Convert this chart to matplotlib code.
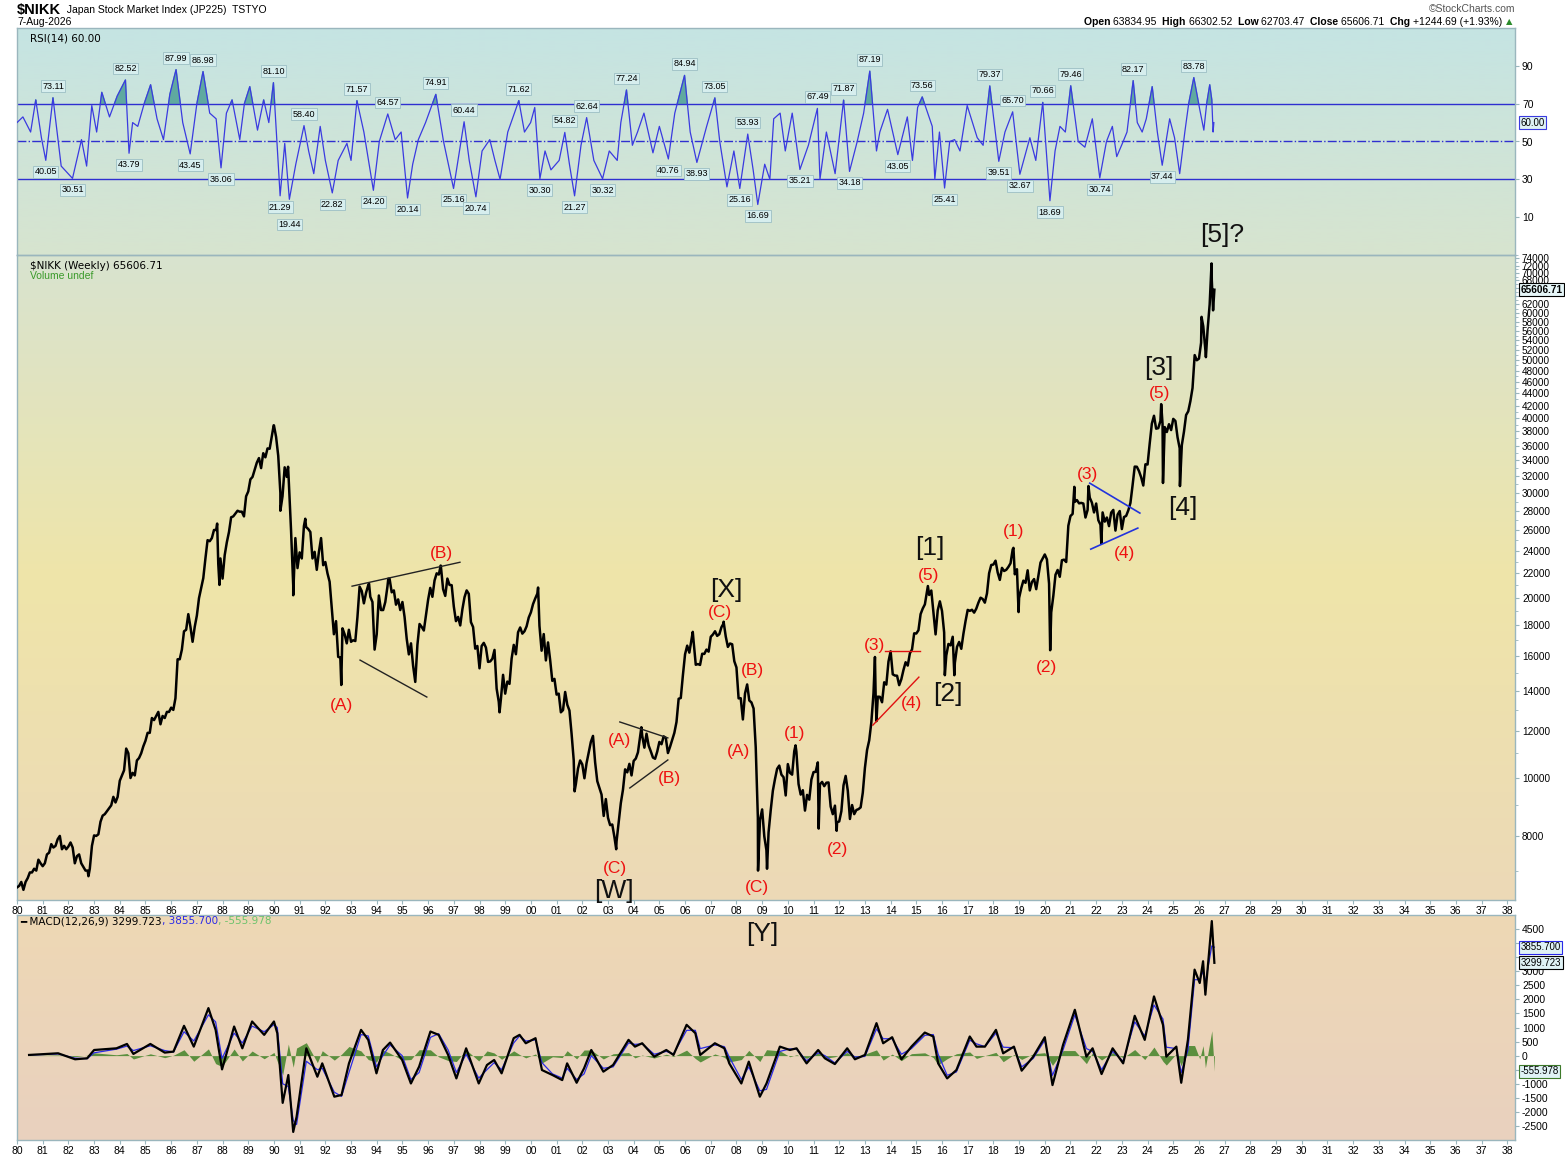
import numpy as np
import matplotlib
matplotlib.use("Agg")
import matplotlib.pyplot as plt
import matplotlib.ticker as mticker
from matplotlib.colors import to_rgb

plt.rcParams['font.family'] = ['Liberation Sans', 'DejaVu Sans']

W, H, DPI = 1565, 1157, 100

# ---------------- DATA ----------------
# Nikkei 225 approximate month-end closes, Jan 1980 .. Jul 2026
first_year = 1980
nikkei_monthly = [
    6600, 6700, 6500, 6700, 6800, 6950, 6950, 7050, 7000, 7300, 7200, 7120,
    7200, 7450, 7500, 7750, 7650, 7700, 7900, 8000, 7600, 7700, 7600, 7680,
    7800, 7650, 7200, 7400, 7450, 7200, 7100, 7000, 7000, 7050, 7700, 8016,
    8000, 8050, 8450, 8650, 8700, 8800, 8900, 9000, 9300, 9100, 9300, 9894,
    10100, 10300, 11200, 11000, 10000, 10200, 10100, 10700, 10800, 11000, 11300, 11542,
    11900, 11900, 12600, 12500, 12700, 12900, 12300, 12700, 12600, 12900, 12900, 13113,
    13000, 13600, 15800, 15800, 16400, 17600, 17700, 18800, 17900, 16900, 17900, 18700,
    20000, 20800, 21600, 23300, 25000, 24900, 25200, 26000, 26000, 22800, 23300, 21560,
    23600, 24800, 25800, 27300, 27400, 27700, 28000, 27900, 27900, 27400, 29600, 30160,
    31600, 31900, 32800, 33700, 34300, 33000, 34950, 34400, 35600, 35550, 37270, 38900,
    37200, 34600, 29980, 29600, 33100, 31900, 31000, 25900, 20980, 25200, 22450, 23850,
    23300, 26400, 26300, 26100, 25800, 23300, 23900, 22300, 23900, 25200, 22700, 22980,
    22000, 21300, 19300, 17400, 18300, 15950, 15900, 17800, 17400, 16800, 17700, 16900,
    17000, 16950, 18600, 20900, 20550, 19600, 20400, 21000, 20100, 19700, 16400, 17400,
    20200, 19100, 19100, 19700, 20900, 21550, 20450, 20600, 19500, 19900, 19100, 19700,
    18600, 17100, 16100, 16800, 15400, 14500, 16700, 18100, 17900, 17650, 18700, 19870,
    20800, 20100, 21400, 22000, 21900, 22530, 20700, 20170, 21560, 21040, 21020, 19360,
    18300, 18600, 18000, 19150, 20070, 20600, 20330, 18230, 17890, 16460, 16630, 15260,
    16630, 16830, 16530, 15640, 15670, 15830, 16380, 14110, 13410, 13560, 14880, 13840,
    14500, 14370, 15840, 16700, 16110, 17530, 17860, 17440, 17600, 17940, 18560, 18930,
    19540, 19960, 20340, 17970, 16330, 17410, 15730, 16860, 15750, 14540, 14650, 13790,
    13840, 12880, 12990, 13930, 13260, 12970, 11860, 10710, 9770, 10370, 10700, 10540,
    9990, 10590, 11020, 11490, 11760, 10620, 9880, 9620, 9380, 8640, 9220, 8580,
    8340, 8360, 7970, 7830, 8420, 9080, 9560, 10340, 10220, 10560, 10100, 10680,
    10780, 11040, 11720, 11760, 11240, 11860, 11330, 11080, 10820, 10770, 11070, 11490,
    11390, 11740, 11670, 11010, 11280, 11580, 11900, 12410, 13570, 13610, 14870, 16110,
    16650, 16210, 17060, 16910, 15470, 15510, 15460, 16140, 16130, 16400, 16270, 17230,
    17380, 17600, 17290, 17400, 17880, 18140, 17250, 16570, 16790, 16740, 15680, 15310,
    13590, 13600, 12530, 13850, 14340, 13480, 13380, 13070, 11260, 8580, 8510, 8860,
    7990, 7570, 8110, 8830, 9520, 9960, 10360, 10490, 10130, 10030, 9350, 10550,
    10200, 10130, 11090, 11060, 9770, 9380, 9540, 8820, 9370, 9200, 9940, 10230,
    10240, 10620, 9760, 9850, 9690, 9820, 9830, 8960, 8700, 8990, 8430, 8460,
    8800, 9720, 10080, 9520, 8540, 9010, 8700, 8840, 8870, 8930, 9450, 10400,
    11140, 11560, 12400, 13860, 13770, 13680, 13670, 13390, 14460, 14330, 15660, 16290,
    14910, 14840, 14830, 14300, 14630, 15160, 15620, 15420, 16170, 16410, 17460, 17450,
    17670, 18800, 19210, 19520, 20560, 20240, 20590, 18890, 17390, 19080, 19750, 19030,
    17520, 16030, 16760, 16670, 17230, 15580, 16570, 16890, 16450, 17430, 18310, 19110,
    19040, 19120, 18910, 19200, 19650, 20030, 19930, 19650, 20360, 22010, 22720, 22760,
    23100, 22070, 21450, 22470, 22200, 22300, 22550, 22870, 24120, 21920, 22350, 20010,
    20770, 21390, 21210, 22260, 20600, 21280, 21520, 20700, 21760, 22930, 23290, 23660,
    23210, 21140, 18920, 20190, 21880, 22290, 21710, 23140, 23190, 22980, 26430, 27440,
    27660, 28970, 29180, 28810, 28860, 28790, 27280, 28090, 29450, 28890, 27820, 28790,
    27000, 26530, 27820, 26850, 27280, 26390, 27800, 28090, 25940, 27590, 27970, 26090,
    27330, 27450, 28040, 28860, 30890, 33190, 33170, 32620, 31860, 30860, 33490, 33460,
    36290, 39170, 40370, 38410, 38490, 39580, 39100, 38650, 37920, 39080, 38210, 39890,
    39570, 37160, 35620, 36050, 37970, 40490, 41070, 42720, 44930, 51000, 50000, 50300,
    53500, 57000, 52000, 56000, 62000, 68000, 64000,
]
# intra-month extremes (highs / lows)
extreme_dates = [1980.0, 1982.78, 1987.79, 1987.88, 1989.99, 1990.25, 1990.55, 1990.75,
                 1991.22, 1992.62, 1993.7, 1994.45, 1995.5, 1996.49, 1998.78, 2000.28,
                 2001.7, 2003.32, 2004.3, 2006.3, 2007.5, 2008.84, 2009.19, 2010.3,
                 2011.2, 2011.9, 2013.39, 2013.45, 2015.45, 2016.11, 2016.48, 2018.78,
                 2018.98, 2020.21, 2021.15, 2021.7, 2022.2, 2024.53, 2024.6, 2025.26,
                 2026.1, 2026.27, 2026.49, 2026.55, 2026.6]
extreme_values = [6560, 6850, 26650, 21040, 38920, 28000, 33170, 20220,
                  27150, 14310, 21150, 21550, 14480, 22670, 12880, 20830,
                  9500, 7600, 12160, 17560, 18260, 7000, 7050, 11340,
                  8230, 8160, 15940, 12450, 20950, 14860, 14860, 24270,
                  18950, 16360, 30700, 30800, 24700, 42220, 31160, 30790,
                  59100, 50600, 72600, 60600, 65606.71]

# RSI(14) labelled extremes
rsi_label_dates = [1981.12, 1981.4, 1982.16, 1984.22, 1984.36, 1986.19, 1986.74, 1987.24,
                   1987.94, 1989.98, 1990.24, 1990.6, 1991.17, 1992.27, 1993.23, 1993.87,
                   1994.43, 1995.2, 1996.3, 1996.99, 1997.4, 1997.86, 1999.53, 2000.35,
                   2001.32, 2001.7, 2002.17, 2002.79, 2003.72, 2005.35, 2005.98, 2006.46,
                   2007.16, 2008.13, 2008.44, 2008.83, 2010.47, 2011.15, 2012.17, 2012.4,
                   2013.19, 2014.28, 2015.23, 2016.1, 2017.86, 2018.21, 2018.75, 2019.03,
                   2019.92, 2020.2, 2021.01, 2022.14, 2023.44, 2024.57, 2025.8]
rsi_label_values = [40.05, 73.11, 30.51, 82.52, 43.79, 87.99, 43.45, 86.98,
                    36.06, 81.10, 21.29, 19.44, 58.40, 22.82, 71.57, 24.20,
                    64.57, 20.14, 74.91, 25.16, 60.44, 20.74, 71.62, 30.30,
                    54.82, 21.27, 62.64, 30.32, 77.24, 40.76, 84.94, 38.93,
                    73.05, 25.16, 53.93, 16.69, 35.21, 67.49, 71.87, 34.18,
                    87.19, 43.05, 73.56, 25.41, 79.37, 39.51, 65.70, 32.67,
                    70.66, 18.69, 79.46, 30.74, 82.17, 37.44, 83.78]
# other RSI swings (unlabelled)
rsi_dates = [1980.0, 1980.23, 1980.53, 1980.73, 1980.95, 1981.72, 1982.51, 1982.71, 1982.91,
             1983.1, 1983.3, 1983.6, 1983.9, 1984.5, 1984.7, 1984.95, 1985.2, 1985.45,
             1985.7, 1985.95, 1986.45, 1987.0, 1987.5, 1987.75, 1988.15, 1988.37, 1988.67,
             1988.85, 1989.06, 1989.36, 1989.6, 1989.8, 1990.42, 1990.85, 1991.35, 1991.55,
             1991.8, 1992.0, 1992.5, 1992.84, 1993.0, 1993.5, 1994.1, 1994.72, 1994.95,
             1995.4, 1995.62, 1995.9, 1996.6, 1997.6, 1998.1, 1998.4, 1998.6, 1998.8,
             1999.1, 1999.75, 1999.99, 2000.15, 2000.55, 2000.78, 2001.1, 2001.5, 2001.95,
             2002.45, 2003.05, 2003.36, 2003.5, 2003.95, 2004.15, 2004.4, 2004.75, 2005.0,
             2005.6, 2006.2, 2006.84, 2007.35, 2007.63, 2007.9, 2008.65, 2009.1, 2009.3,
             2009.45, 2009.7, 2009.9, 2010.17, 2010.8, 2011.25, 2011.5, 2011.84, 2012.7,
             2012.95, 2013.45, 2013.58, 2013.88, 2014.65, 2014.85, 2015.05, 2015.62,
             2015.72, 2015.9, 2016.3, 2016.49, 2016.7, 2016.98, 2017.37, 2017.6, 2018.45,
             2019.42, 2019.65, 2020.4, 2020.59, 2020.8, 2021.3, 2021.56, 2021.85, 2022.4,
             2022.63, 2022.8, 2023.02, 2023.2, 2023.6, 2023.79, 2023.95, 2024.18, 2024.38,
             2024.86, 2025.05, 2025.25, 2025.45, 2025.6, 2026.03, 2026.19, 2026.3, 2026.42,
             2026.5, 2026.55, 2026.58]
rsi_values = [60, 63, 55, 72, 52, 37, 51, 37, 69,
              55, 76, 63, 74, 60, 58, 70, 80, 62,
              51, 75, 60, 70, 65, 62, 65, 72, 51,
              70, 79, 56, 72, 60, 49, 38, 45, 33,
              58, 40, 40, 49, 40, 55, 50, 51, 55,
              38, 51, 60, 50, 40, 45, 51, 40, 30,
              55, 55, 60, 68, 45, 35, 40, 38, 48,
              40, 45, 40, 60, 48, 55, 65, 44, 58,
              65, 55, 58, 50, 26, 45, 35, 38, 30,
              62, 65, 45, 65, 48, 30, 55, 33, 50,
              65, 45, 55, 67, 63, 40, 68, 58,
              30, 55, 50, 51, 45, 69, 52, 48, 55,
              52, 40, 45, 58, 55, 50, 47, 62, 50,
              58, 42, 49, 55, 60, 55, 62, 79, 55,
              62, 52, 33, 55, 70, 67, 56, 70, 80,
              72, 55, 60.00]

# MACD(12,26,9) line and signal line
macd_dates = [1980.47, 1981.6, 1982.26, 1982.73, 1983.0, 1983.87, 1984.28, 1984.53, 1985.19,
              1985.75, 1986.09, 1986.5, 1986.88, 1987.45, 1987.73, 1987.98, 1988.45, 1988.77,
              1989.15, 1989.62, 1990.0, 1990.13, 1990.34, 1990.56, 1990.75, 1990.88, 1991.26,
              1991.69, 1991.88, 1992.35, 1992.63, 1992.92, 1993.39, 1993.67, 1993.99, 1994.24,
              1994.52, 1994.99, 1995.33, 1995.65, 1996.09, 1996.41, 1996.78, 1997.1, 1997.48,
              1997.97, 1998.29, 1998.57, 1998.86, 1999.33, 1999.56, 1999.8, 2000.18, 2000.43,
              2000.84, 2001.22, 2001.41, 2001.78, 2002.07, 2002.35, 2002.82, 2003.2, 2003.8,
              2004.05, 2004.33, 2004.8, 2005.27, 2005.55, 2006.06, 2006.4, 2006.59, 2007.16,
              2007.53, 2007.72, 2008.19, 2008.48, 2008.91, 2009.17, 2009.69, 2010.08, 2010.34,
              2010.73, 2011.18, 2011.44, 2011.83, 2012.31, 2012.61, 2013.0, 2013.45, 2013.71,
              2014.06, 2014.42, 2014.81, 2015.33, 2015.66, 2015.85, 2016.2, 2016.56, 2017.08,
              2017.34, 2017.67, 2018.1, 2018.38, 2018.8, 2019.1, 2019.55, 2020.0, 2020.3,
              2020.71, 2021.17, 2021.62, 2021.86, 2022.21, 2022.64, 2023.05, 2023.5, 2023.89,
              2024.25, 2024.6, 2024.73, 2025.12, 2025.31, 2025.57, 2025.83, 2026.03, 2026.16,
              2026.25, 2026.5, 2026.6]
macd_values = [24, 83, -130, -95, 200, 260, 415, 60, 415,
               107, 143, 1060, 320, 1690, 916, -490, 1035, 260,
               1214, 738, 1214, 797, -1680, -690, -2713, -2180, 260,
               -750, -275, -1460, -1400, -275, 916, 560, -630, 200,
               464, -155, -990, -390, 857, 738, 24, -810, 260,
               -990, -333, -155, -630, 620, 738, 440, 620, -512,
               -690, -870, -275, -965, -450, 200, -570, -333, 560,
               320, 440, -36, 200, 24, 1095, 797, 24, 440,
               260, -275, -990, -214, -1460, -990, 320, 200, 260,
               -275, 200, -95, -300, 260, -130, 24, 1155, 440,
               655, -130, 320, 820, 680, -275, -810, -512, 680,
               320, 320, 916, 83, 320, -535, -36, 655, -1047,
               380, 1630, -36, 260, -655, 260, -275, 1416, 560,
               2106, 1095, -36, 320, -965, 560, 3058, 2582, 3356,
               2166, 4784, 3299.723]
signal_values = [20, 60, -90, -110, 100, 230, 340, 180, 350,
                 180, 130, 850, 520, 1450, 1200, -100, 800, 450,
                 1050, 850, 1100, 1000, -1000, -1100, -2300, -2450, -200,
                 -500, -450, -1300, -1450, -600, 750, 700, -400, 0,
                 380, 0, -850, -600, 650, 780, 200, -600, 50,
                 -800, -500, -250, -500, 450, 700, 520, 560, -250,
                 -650, -800, -450, -850, -650, 0, -450, -400, 450,
                 400, 420, 50, 150, 60, 900, 900, 250, 380,
                 320, -50, -850, -400, -1250, -1200, 150, 240, 230,
                 -180, 100, 0, -260, 150, -50, -30, 950, 600,
                 600, 50, 250, 720, 750, 50, -700, -580, 550,
                 420, 320, 800, 300, 280, -400, -100, 550, -700,
                 200, 1450, 250, 150, -500, 150, -200, 1200, 700,
                 1800, 1300, 300, 250, -600, 200, 2700, 2700, 3000,
                 2600, 3900, 3855.700]

# Elliott-wave annotations (text, date, price level)
wave_texts = ["(A)", "(B)", "[W]", "(C)", "(A)", "(B)", "[X]", "(C)", "(B)", "(A)", "(C)",
              "[Y]", "(1)", "(2)", "(3)", "(4)", "(5)", "[1]", "[2]", "(1)", "(2)", "(3)",
              "(4)", "[3]", "(5)", "[4]", "[5]?"]
wave_dates = [1992.61, 1996.5, 2003.23, 2003.27, 2003.46, 2005.41, 2007.59, 2007.35, 2008.64,
              2008.09, 2008.79, 2009.02, 2010.27, 2011.95, 2013.39, 2014.83, 2015.49, 2015.53,
              2016.23, 2018.79, 2020.08, 2021.67, 2023.11, 2024.44, 2024.47, 2025.37, 2026.89]
wave_prices = [13200, 23790, 6480, 7070, 11570, 9998, 20630, 18950, 15160,
               11055, 6548, 5480, 11850, 7580, 16630, 13350, 21850, 24250,
               13820, 25880, 15330, 32240, 23790, 48490, 44040, 28290, 80900]

# trend lines drawn on the chart
black_line_dates = [[1993.04, 1997.24], [1993.35, 1995.95], [2003.46, 2005.33], [2003.85, 2005.33]]
black_line_values = [[20940, 22960], [15750, 13660], [12410, 11670], [9623, 10720]]
red_line_dates = [[2013.77, 2015.14], [2013.31, 2015.1]]
red_line_values = [[16310, 16310], [12260, 14750]]
blue_line_dates = [[2021.75, 2023.7], [2021.79, 2023.62]]
blue_line_values = [[31140, 27750], [24150, 26190]]

year_ticks = list(range(1980, 2039))
price_ticks = list(range(8000, 74001, 2000))
price_ticks_hidden = [64000, 66000]        # covered by the last-close tag
rsi_ticks = [10, 30, 50, 70, 90]
macd_ticks = list(range(-2500, 4501, 500))
macd_ticks_hidden = [4000, 3500, -500]     # covered by the value tags

last_close = 65606.71
rsi_last = 60.00
macd_last, signal_last, hist_last = 3299.723, 3855.700, -555.978

# ---------------- FIGURE ----------------
fig = plt.figure(figsize=(W / DPI, H / DPI), dpi=DPI, facecolor='white')
SPINE = '#9ab6bd'


def px_rect(x0, y0, x1, y1):
    return [x0 / W, 1 - y1 / H, (x1 - x0) / W, (y1 - y0) / H]


def add_bg(rect, stops):
    bg = fig.add_axes(rect, zorder=0)
    bg.set_axis_off()
    pos = np.linspace(0, 1, 256)
    ps = [p for p, _ in stops]
    cols = np.array([to_rgb(c) for _, c in stops])
    arr = np.stack([np.interp(pos, ps, cols[:, k]) for k in range(3)], axis=-1)[:, None, :]
    bg.imshow(arr, aspect='auto', interpolation='bilinear')
    bg.set_position(rect)


def style_axes(ax):
    ax.patch.set_alpha(0)
    for s in ax.spines.values():
        s.set_color(SPINE)
        s.set_linewidth(1.0)
    ax.yaxis.tick_right()
    ax.tick_params(axis='y', labelsize=7.5, length=3, color=SPINE, pad=2)
    ax.tick_params(axis='x', labelsize=7.5, length=3, color=SPINE, pad=1.5)


r_rsi = px_rect(17, 28, 1515, 255)
r_price = px_rect(17, 255, 1515, 900)
r_macd = px_rect(17, 915, 1515, 1140)
add_bg(r_rsi, [(0, '#c5e4e3'), (1, '#d7e4cf')])
add_bg(r_price, [(0, '#d8e3cf'), (0.5, '#efe5a9'), (1, '#ecd9b7')])
add_bg(r_macd, [(0, '#eed8b4'), (1, '#e9d1bf')])

ax_r = fig.add_axes(r_rsi, zorder=2)
ax_p = fig.add_axes(r_price, zorder=2)
ax_m = fig.add_axes(r_macd, zorder=2)
for a in (ax_r, ax_p, ax_m):
    style_axes(a)
    a.set_xlim(1980, 2038.3)

# ---- RSI ----
rd = np.array(rsi_dates + rsi_label_dates)
rv = np.array(rsi_values + rsi_label_values)
o = np.argsort(rd)
rd, rv = rd[o], rv[o]
ax_r.set_ylim(-10, 110)
ax_r.fill_between(rd, rv, 70, where=rv > 70, interpolate=True, color='#5fa9a0', zorder=2)
ax_r.plot(rd, rv, color='#3a3ae0', lw=0.9, zorder=3)
ax_r.axhline(70, color='#2f2fd0', lw=1.0, zorder=2)
ax_r.axhline(30, color='#2f2fd0', lw=1.0, zorder=2)
ax_r.axhline(50, color='#2f2fd0', lw=1.0, ls='-.', zorder=2)
ax_r.set_yticks(rsi_ticks)
ax_r.set_xticks([])
prev_trough_date = -1e9
for d, v in zip(rsi_label_dates, rsi_label_values):
    up = v >= 50
    off = 5 if up else -5
    if not up:
        # two neighbouring trough labels: stack the later one below the first
        if d - prev_trough_date < 0.5:
            off = -15
        prev_trough_date = d
    ax_r.annotate(f"{v:.2f}", xy=(d, v), xytext=(0, off),
                  textcoords='offset points', ha='center', va='bottom' if up else 'top',
                  fontsize=6.5, zorder=5,
                  bbox=dict(boxstyle='square,pad=0.15', fc='#d6eeee', ec='#9cbfc4', lw=0.6))
ax_r.annotate(f"{rsi_last:.2f}", xy=(1, rsi_last), xycoords=ax_r.get_yaxis_transform(),
              xytext=(4, 0), textcoords='offset points', ha='left', va='center', fontsize=7,
              bbox=dict(boxstyle='square,pad=0.15', fc='#dff2f5', ec='#3a3ae0', lw=0.8))
ax_r.text(0.009, 0.955, "RSI(14) 60.00", transform=ax_r.transAxes, fontsize=7.5,
          family=['DejaVu Sans'], va='center')

# ---- PRICE ----
pd_ = [first_year + (i + 1) / 12 for i in range(len(nikkei_monthly))]
pdates = np.array(pd_ + extreme_dates)
pvals = np.array(nikkei_monthly + extreme_values, dtype=float)
o = np.argsort(pdates, kind='stable')
pdates, pvals = pdates[o], pvals[o]
ax_p.set_yscale('log')
ax_p.plot(pdates, pvals, color='black', lw=1.8, zorder=3)
ax_p.set_ylim(6250, 75000)
ax_p.yaxis.set_major_locator(mticker.FixedLocator(price_ticks))
ax_p.yaxis.set_major_formatter(mticker.FuncFormatter(
    lambda v, p: "" if int(round(v)) in price_ticks_hidden else f"{int(round(v))}"))
ax_p.yaxis.set_minor_locator(mticker.FixedLocator([v + 1000 for v in price_ticks] + [7000]))
ax_p.yaxis.set_minor_formatter(mticker.NullFormatter())
ax_p.tick_params(axis='y', which='minor', length=2, color=SPINE)
ax_p.tick_params(axis='y', labelsize=7.2)
ax_p.set_xticks(year_ticks)
ax_p.set_xticklabels([f"{y % 100:02d}" for y in year_ticks])
ax_p.set_xlim(1980, 2038.3)

for xs, ys in zip(black_line_dates, black_line_values):
    ax_p.plot(xs, ys, color='#222222', lw=1.0, zorder=4)
for xs, ys in zip(red_line_dates, red_line_values):
    ax_p.plot(xs, ys, color='#e01010', lw=1.0, zorder=4)
for xs, ys in zip(blue_line_dates, blue_line_values):
    ax_p.plot(xs, ys, color='#2233dd', lw=1.2, zorder=4)

for t, d, v in zip(wave_texts, wave_dates, wave_prices):
    big = t.startswith('[')
    ax_p.text(d, v, t, ha='center', va='center', clip_on=False, zorder=6,
              fontsize=19 if big else 12.5, color='#111111' if big else '#ee1111')

ax_p.annotate(f"{last_close:.2f}", xy=(1, last_close), xycoords=ax_p.get_yaxis_transform(),
              xytext=(4, 0), textcoords='offset points', ha='left', va='center', fontsize=7.2,
              fontweight='bold',
              bbox=dict(boxstyle='square,pad=0.15', fc='#e6f6f8', ec='black', lw=0.8))
ax_p.text(0.009, 0.990, "$NIKK (Weekly) 65606.71", transform=ax_p.transAxes, fontsize=7.5,
          family=['DejaVu Sans'], va='top')
ax_p.text(0.009, 0.975, "Volume undef", transform=ax_p.transAxes, fontsize=7.5,
          color='#3a9a2a', va='top')

# ---- MACD ----
md = np.array(macd_dates)
mv = np.array(macd_values)
sv = np.array(signal_values)
hist = mv - sv
ax_m.set_ylim(-3000, 5000)
ax_m.fill_between(md, hist, 0, color='#5b8f3e', lw=0, zorder=2)
ax_m.plot(md, sv, color='#2a2ae8', lw=0.9, zorder=3)
ax_m.plot(md, mv, color='black', lw=1.6, zorder=4)
ax_m.set_yticks(macd_ticks)
ax_m.yaxis.set_major_formatter(mticker.FuncFormatter(
    lambda v, p: "" if int(round(v)) in macd_ticks_hidden else f"{int(round(v))}"))
ax_m.set_xticks(year_ticks)
ax_m.set_xticklabels([f"{y % 100:02d}" for y in year_ticks])
ax_m.set_xlim(1980, 2038.3)
for val, ec in ((signal_last, '#2a2ae8'), (macd_last, 'black'), (hist_last, '#3d7a2a')):
    ax_m.annotate(f"{val:.3f}", xy=(1, val), xycoords=ax_m.get_yaxis_transform(),
                  xytext=(4, 0), textcoords='offset points', ha='left', va='center',
                  fontsize=7, zorder=6,
                  bbox=dict(boxstyle='square,pad=0.15', fc='#dff2f5', ec=ec, lw=0.8))

# ---- header / legend texts laid out in sequence ----
renderer = fig.canvas.get_renderer()


def seq_text(x_px, y_px, pieces, align='left'):
    x = x_px
    objs = []
    for txt, kw in pieces:
        t = fig.text(x / W, 1 - y_px / H, txt, va='center', ha='left', **kw)
        x += t.get_window_extent(renderer).width
        objs.append(t)
    if align == 'right':
        shift = (x - x_px) / W
        for t in objs:
            px, py = t.get_position()
            t.set_position((px - shift, py))


seq_text(17, 10, [("$NIKK", dict(fontsize=10.5, fontweight='bold')),
                  ("  Japan Stock Market Index (JP225)  TSTYO", dict(fontsize=7.5))])
fig.text(17 / W, 1 - 22 / H, "7-Aug-2026", fontsize=7.5, va='center')
fig.text(1515 / W, 1 - 9 / H, "\u00a9StockCharts.com", fontsize=7.5, color='#555555',
         ha='right', va='center')
B = dict(fontsize=7.5, fontweight='bold')
N = dict(fontsize=7.5)
seq_text(1512, 22, [("Open ", B), ("63834.95  ", N), ("High ", B), ("66302.52  ", N),
                    ("Low ", B), ("62703.47  ", N), ("Close ", B), ("65606.71  ", N),
                    ("Chg ", B), ("+1244.69 (+1.93%) ", N),
                    ("\u25b2", dict(fontsize=6, color='#2a8a2a', family=['DejaVu Sans']))],
         align='right')
M = dict(fontsize=7.5, family=['DejaVu Sans'])
seq_text(20, 921, [("\u2501 MACD(12,26,9) 3299.723", dict(M, color='black')),
                   (", 3855.700", dict(M, color='#2a2ae8')),
                   (", -555.978", dict(M, color='#6cc26c'))])

fig.savefig("out.png", dpi=DPI, facecolor='white')
